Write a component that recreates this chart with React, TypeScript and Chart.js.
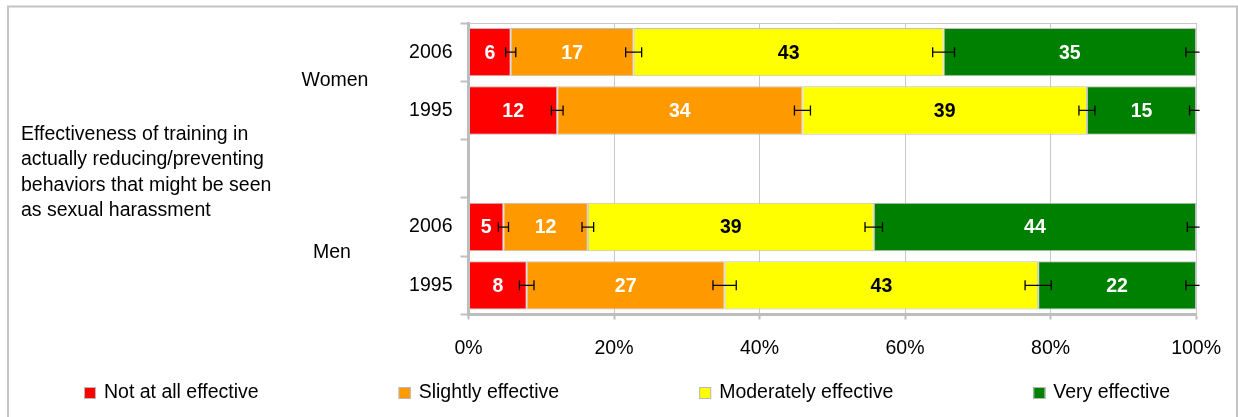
import React, { useEffect, useRef } from 'react';
import { Chart, registerables } from 'chart.js';

Chart.register(...registerables);

const rowLabels = ['2006', '1995', '', '2006', '1995'];
const groupLabels = ['Women', 'Men'];
const seriesNames = ['Not at all effective', 'Slightly effective', 'Moderately effective', 'Very effective'];
const notAtAll = [5.8, 12.2, null, 4.8, 8.0];
const slightly = [16.9, 33.7, null, 11.6, 27.2];
const moderately = [42.6, 39.1, null, 39.3, 43.1];
const very = [34.7, 15.0, null, 44.3, 21.7];
const errNotAtAll = [0.7, 0.8, null, 0.7, 1.0];
const errSlightly = [1.1, 1.1, null, 0.8, 1.6];
const errModerately = [1.5, 1.1, null, 1.2, 1.8];
const errVery = [1.4, 0.9, null, 1.2, 1.4];
const xTicks = [0, 20, 40, 60, 80, 100];
const sideTitle = [
  'Effectiveness of training in',
  'actually reducing/preventing',
  'behaviors that might be seen',
  'as sexual harassment',
];

const seriesValues = [notAtAll, slightly, moderately, very];
const seriesErrors = [errNotAtAll, errSlightly, errModerately, errVery];
const colors = ['#ff0000', '#ff9900', '#ffff00', '#008000'];
const labelColors = ['#ffffff', '#ffffff', '#000000', '#ffffff'];
const FONT = "'Liberation Sans', Arial, sans-serif";
const FS = 19.5;

const decorPlugin = {
  id: 'decor',
  beforeDraw(chart: any) {
    const ctx = chart.ctx;
    ctx.save();
    ctx.fillStyle = '#ffffff';
    ctx.fillRect(0, 0, chart.width, chart.height);
    ctx.strokeStyle = '#c4c4c4';
    ctx.lineWidth = 2;
    ctx.strokeRect(8, 6.5, 1229, 500);
    ctx.restore();
  },
  beforeDatasetsDraw(chart: any) {
    const { ctx, chartArea } = chart;
    ctx.save();
    ctx.strokeStyle = '#c8c8c8';
    ctx.lineWidth = 1;
    ctx.beginPath();
    ctx.moveTo(chartArea.left, chartArea.top + 0.5);
    ctx.lineTo(chartArea.right, chartArea.top + 0.5);
    ctx.stroke();
    ctx.restore();
  },
  afterDatasetsDraw(chart: any) {
    const { ctx, chartArea } = chart;
    const xs = chart.scales.x;
    const ys = chart.scales.y;
    // value labels
    ctx.save();
    ctx.font = `bold ${FS}px ${FONT}`;
    ctx.textAlign = 'center';
    ctx.textBaseline = 'middle';
    chart.data.datasets.forEach((ds: any, j: number) => {
      const meta = chart.getDatasetMeta(j);
      meta.data.forEach((bar: any, i: number) => {
        const v = ds.data[i];
        if (v == null) return;
        ctx.fillStyle = labelColors[j];
        ctx.fillText(String(Math.round(v)), (bar.x + bar.base) / 2, bar.y + 1);
      });
    });
    ctx.restore();
    // error bars
    ctx.save();
    ctx.beginPath();
    ctx.rect(chartArea.left - 5, 0, chartArea.right - chartArea.left + 8.5, chart.height);
    ctx.clip();
    ctx.strokeStyle = '#000000';
    ctx.lineWidth = 1.3;
    rowLabels.forEach((_, i) => {
      let cum = 0;
      const y = ys.getPixelForValue(i);
      seriesValues.forEach((vals, j) => {
        const v = vals[i];
        const e = seriesErrors[j][i];
        if (v == null || e == null) return;
        cum += v;
        const x1 = xs.getPixelForValue(cum - e);
        const x2 = xs.getPixelForValue(cum + e);
        ctx.beginPath();
        ctx.moveTo(x1, y);
        ctx.lineTo(x2, y);
        ctx.moveTo(x1, y - 5);
        ctx.lineTo(x1, y + 5);
        ctx.moveTo(x2, y - 5);
        ctx.lineTo(x2, y + 5);
        ctx.stroke();
      });
    });
    ctx.restore();
  },
  afterDraw(chart: any) {
    const ctx = chart.ctx;
    ctx.save();
    ctx.font = `${FS}px ${FONT}`;
    ctx.fillStyle = '#000000';
    ctx.textBaseline = 'middle';
    // group labels
    ctx.textAlign = 'center';
    ctx.fillText(groupLabels[0], 335, 81);
    ctx.fillText(groupLabels[1], 332, 253);
    // side title
    ctx.textAlign = 'left';
    ctx.textBaseline = 'alphabetic';
    sideTitle.forEach((line, k) => {
      ctx.fillText(line, 21, 140 + k * 25.3);
    });
    // legend
    ctx.textBaseline = 'middle';
    let x = 84;
    const yC = 393;
    chart.data.datasets.forEach((ds: any) => {
      ctx.fillStyle = ds.backgroundColor;
      ctx.fillRect(x, yC - 6, 12, 12);
      ctx.strokeStyle = '#b8b8b8';
      ctx.lineWidth = 1;
      ctx.strokeRect(x + 0.5, yC - 5.5, 11, 11);
      ctx.fillStyle = '#000000';
      ctx.fillText(ds.label, x + 20, yC);
      const w = ctx.measureText(ds.label).width;
      x += 20 + w + 140;
    });
    ctx.restore();
  },
};

export default function App() {
  const canvasRef = useRef<HTMLCanvasElement | null>(null);

  useEffect(() => {
    const canvas = canvasRef.current;
    if (!canvas) return;
    const chart = new Chart(canvas, {
      type: 'bar',
      data: {
        labels: rowLabels,
        datasets: seriesValues.map((vals, j) => ({
          label: seriesNames[j],
          data: vals,
          backgroundColor: colors[j],
          borderColor: '#c0c0c0',
          borderWidth: 1,
          borderSkipped: false,
          categoryPercentage: 1,
          barPercentage: 0.83,
        })),
      },
      options: {
        indexAxis: 'y',
        responsive: false,
        animation: false,
        devicePixelRatio: 1,
        layout: { padding: { top: 23, right: 41.5, bottom: 0, left: 0 } },
        plugins: {
          legend: { display: false },
          tooltip: { enabled: false },
        },
        scales: {
          x: {
            type: 'linear',
            stacked: true,
            min: 0,
            max: 100,
            afterBuildTicks: (scale: any) => {
              scale.ticks = xTicks.map((v) => ({ value: v }));
            },
            ticks: {
              callback: (v: any) => v + '%',
              font: { size: FS, family: FONT },
              color: '#000000',
              padding: 17,
              maxRotation: 0,
              autoSkip: false,
            },
            grid: {
              color: '#c8c8c8',
              lineWidth: 1,
              drawTicks: true,
              tickLength: 5,
              tickColor: '#bdbdbd',
              tickWidth: 2,
            },
            border: { color: '#bdbdbd', width: 3 },
            afterFit: (s: any) => {
              s.height = 417 - 314.5;
            },
          },
          y: {
            type: 'category',
            stacked: true,
            ticks: {
              font: { size: FS, family: FONT },
              color: '#000000',
              padding: 8,
              autoSkip: false,
            },
            grid: {
              display: true,
              drawOnChartArea: false,
              drawTicks: true,
              tickLength: 8,
              tickColor: '#c0c0c0',
              tickWidth: 2,
              offset: true,
            },
            border: { color: '#bdbdbd', width: 3 },
            afterFit: (s: any) => {
              s.width = 468.5;
            },
          },
        },
      },
      plugins: [decorPlugin],
    });
    return () => chart.destroy();
  }, []);

  return (
    <div style={{ position: 'fixed', left: 0, top: 0, width: 1238, height: 417, overflow: 'hidden', background: '#fff' }}>
      <canvas ref={canvasRef} width={1238} height={417} style={{ display: 'block', width: 1238, height: 417 }} />
    </div>
  );
}
